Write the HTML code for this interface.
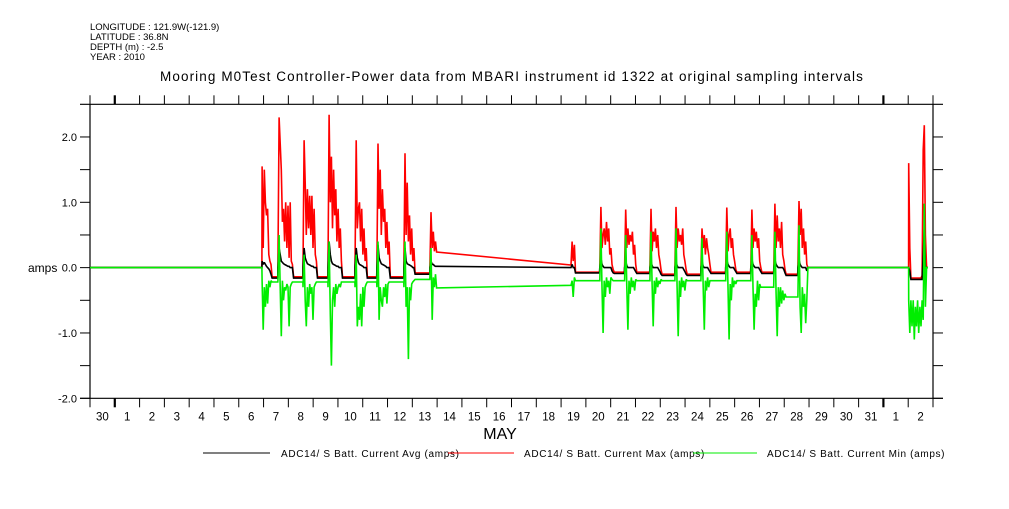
<!DOCTYPE html>
<html><head><meta charset="utf-8"><style>
html,body{margin:0;padding:0;background:#fff;}
svg text{font-family:"Liberation Sans",sans-serif;fill:#000;}
</style></head><body>
<svg id="chart" width="1009" height="504" xmlns="http://www.w3.org/2000/svg">
<g font-size="9.5">
<text x="90" y="30">LONGITUDE : 121.9W(-121.9)</text>
<text x="90" y="40">LATITUDE : 36.8N</text>
<text x="90" y="50">DEPTH (m) : -2.5</text>
<text x="90" y="60">YEAR : 2010</text>
</g>
<text x="512" y="81" font-size="13.5" letter-spacing="1.1" text-anchor="middle">Mooring M0Test Controller-Power data from MBARI instrument id 1322 at original sampling intervals</text>
<g id="axes"></g>
<g id="series"></g>
<text x="28" y="272" font-size="12">amps</text>
<text x="500" y="439" font-size="16" text-anchor="middle">MAY</text>
<g font-size="10" letter-spacing="0.65">
<line x1="203" y1="453" x2="270" y2="453" stroke="#000"/>
<text x="281" y="457">ADC14/ S Batt. Current Avg (amps)</text>
<line x1="448" y1="453" x2="514" y2="453" stroke="#f00"/>
<text x="524" y="457">ADC14/ S Batt. Current Max (amps)</text>
<line x1="693" y1="453" x2="757" y2="453" stroke="#0e0"/>
<text x="767" y="457">ADC14/ S Batt. Current Min (amps)</text>
</g>
</svg>
<script>
const dayLabels = ["30","1","2","3","4","5","6","7","8","9","10","11","12","13","14","15","16","17","18","19","20","21","22","23","24","25","26","27","28","29","30","31","1","2"];
const monthBoundaries = [1, 32];
const yTicks = [-2,-1.5,-1,-0.5,0,0.5,1,1.5,2];
const yTickLabels = ["-2.0","","-1.0","","0.0","","1.0","","2.0"];
const burstStart = [6.94,7.58,8.59,9.6,10.69,11.57,12.66,13.71,19.4,20.56,21.56,22.58,23.59,24.64,25.64,26.65,27.58,28.55,33.02];
const burstMax = [
[1.55,0.3,1.5,1.0,0.8,0.9,0.2,0.1,0.05,-0.14],
[0.0,2.3,1.9,1.5,0.7,0.9,0.4,1.0,0.3,0.95,0.15,1.0,0.1,0.05,-0.14],
[0.0,1.95,1.3,0.5,1.2,0.6,1.1,0.5,1.1,0.3,0.9,0.2,0.1,-0.14],
[0.0,2.34,1.0,1.7,0.6,1.5,0.8,1.2,0.4,0.9,0.3,0.6,0.1,-0.14],
[0.0,1.95,0.6,0.9,1.0,0.4,0.9,0.2,0.6,0.1,0.3,-0.14],
[0.0,1.9,0.9,1.5,0.5,1.2,0.7,0.9,0.3,0.7,0.2,0.4,-0.14],
[0.0,1.75,0.5,1.3,0.4,0.8,0.2,0.6,0.1,0.3,-0.08],
[0.0,0.85,0.3,0.55,0.25,0.4,0.24],
[0.04,0.4,0.1,0.35,-0.07],
[0.0,0.93,0.3,0.5,0.6,0.35,0.7,0.4,0.6,0.2,0.3,0.05,-0.03,-0.07],
[0.0,0.89,0.3,0.6,0.35,0.5,0.4,0.55,0.2,0.35,0.05,-0.07],
[0.0,0.9,0.25,0.55,0.4,0.6,0.3,0.5,0.2,0.1,-0.03,-0.1],
[0.0,0.93,0.3,0.6,0.4,0.5,0.35,0.6,0.2,0.1,-0.03,-0.1],
[0.0,0.6,0.3,0.5,0.2,0.45,0.3,0.2,0.05,-0.07],
[0.0,0.92,0.25,0.5,0.6,0.3,0.45,0.2,0.1,-0.03,-0.07],
[0.0,0.89,0.3,0.6,0.4,0.55,0.3,0.45,0.1,0.0,-0.07],
[0.0,0.98,0.3,0.8,0.4,0.6,0.3,0.7,0.2,0.1,-0.03,-0.1],
[0.0,1.02,0.5,0.9,0.3,0.6,0.2,0.4,0.05,0.0],
[1.6,0.3,-0.16,-0.16,-0.16,-0.16,-0.16,-0.16,-0.16,-0.16,-0.16,-0.16,-0.12,1.8,2.18,0.5]
];
const burstAvg = [
[0.1,0.05,0.08,0.05,0.02,0.0,-0.02,-0.05,-0.1,-0.16],
[0.0,0.3,0.2,0.1,0.08,0.06,0.05,0.04,0.03,0.02,0.02,0.0,0.0,0.0,-0.16],
[0.0,0.3,0.15,0.1,0.06,0.05,0.04,0.03,0.02,0.02,0.0,0.0,0.0,-0.16],
[0.0,0.4,0.2,0.1,0.06,0.05,0.04,0.03,0.02,0.02,0.0,0.0,0.0,-0.16],
[0.0,0.3,0.15,0.08,0.05,0.04,0.03,0.02,0.0,0.0,0.0,-0.16],
[0.0,0.35,0.15,0.1,0.06,0.05,0.04,0.03,0.02,0.0,0.0,0.0,-0.16],
[0.0,0.3,0.1,0.06,0.05,0.04,0.03,0.02,0.0,0.0,-0.1],
[0.0,0.1,0.05,0.05,0.03,0.02,0.02],
[0.0,0.05,0.0,0.0,-0.08],
[0.0,0.15,0.05,0.02,0.0,0.0,0.0,0.0,0.0,0.0,0.0,-0.05,-0.08,-0.09],
[0.0,0.1,0.03,0.0,0.0,0.0,0.0,0.0,0.0,-0.03,-0.06,-0.09],
[0.0,0.1,0.03,0.0,0.0,0.0,0.0,0.0,-0.03,-0.06,-0.1,-0.12],
[0.0,0.1,0.03,0.0,0.0,0.0,0.0,0.0,-0.03,-0.06,-0.1,-0.12],
[0.0,0.1,0.02,0.0,0.0,0.0,0.0,-0.03,-0.06,-0.09],
[0.0,0.12,0.05,0.02,0.0,0.0,0.0,0.0,-0.03,-0.06,-0.09],
[0.0,0.12,0.05,0.02,0.0,0.0,0.0,0.0,-0.03,-0.06,-0.09],
[0.0,0.12,0.05,0.02,0.0,0.0,0.0,0.0,0.0,-0.03,-0.08,-0.12],
[0.0,0.12,0.05,0.02,0.0,0.0,0.0,0.0,-0.05,0.0],
[0.0,-0.05,-0.18,-0.18,-0.18,-0.18,-0.18,-0.18,-0.18,-0.18,-0.18,-0.18,-0.18,0.2,0.6,0.0]
];
const burstMin = [
[-0.2,-0.95,-0.3,-0.6,-0.25,-0.55,-0.2,-0.3,-0.2,-0.22],
[-0.2,0.5,-0.3,-1.05,-0.2,-0.5,-0.3,-0.35,-0.25,-0.3,-0.9,-0.3,-0.25,-0.22,-0.22],
[-0.3,0.2,-0.5,-0.9,-0.3,-0.6,-0.25,-0.4,-0.3,-0.8,-0.3,-0.25,-0.22,-0.22],
[-0.3,0.4,-0.7,-1.5,-0.5,-0.3,-0.6,-0.25,-0.4,-0.3,-0.25,-0.3,-0.22,-0.22],
[-0.3,0.2,-0.9,-0.6,-0.8,-0.4,-0.9,-0.3,-0.6,-0.3,-0.25,-0.22],
[-0.3,0.4,-0.8,-0.3,-0.5,-0.6,-0.3,-0.45,-0.25,-0.55,-0.25,-0.22,-0.22],
[-0.3,0.4,-0.6,-0.3,-1.4,-0.3,-0.5,-0.25,-0.22,-0.2,-0.18],
[-0.15,0.3,-0.8,-0.15,-0.3,-0.1,-0.31],
[-0.27,-0.2,-0.45,-0.15,-0.2],
[-0.2,0.6,-0.3,-1.0,-0.2,-0.45,-0.15,-0.3,-0.2,-0.4,-0.15,-0.18,-0.2,-0.2],
[-0.2,0.5,-0.3,-0.95,-0.2,-0.4,-0.15,-0.3,-0.2,-0.35,-0.18,-0.2],
[-0.2,0.55,-0.25,-0.9,-0.2,-0.4,-0.15,-0.3,-0.2,-0.25,-0.18,-0.2],
[-0.2,0.6,-0.3,-1.05,-0.2,-0.45,-0.15,-0.3,-0.2,-0.35,-0.18,-0.2],
[-0.2,0.45,-0.3,-0.95,-0.2,-0.35,-0.15,-0.3,-0.2,-0.2],
[-0.2,0.55,-0.3,-1.1,-0.25,-0.5,-0.15,-0.3,-0.2,-0.25,-0.2],
[-0.2,0.5,-0.3,-0.95,-0.4,-0.6,-0.2,-0.5,-0.25,-0.3,-0.3],
[-0.2,0.55,-0.4,-1.05,-0.3,-0.6,-0.3,-0.55,-0.35,-0.5,-0.4,-0.45],
[-0.45,0.65,-0.6,-1.0,-0.3,-0.6,-0.4,-0.85,-0.5,0.0],
[-0.5,-1.0,-0.5,-0.9,-0.5,-1.1,-0.6,-0.9,-0.5,-1.0,-0.6,-0.9,-0.5,-0.8,0.98,-0.6]
];
const dataEnd = 33.8;
</script>
<script>
const NS = "http://www.w3.org/2000/svg";
const X0 = 90, X1 = 933, Y0 = 104.3, Y1 = 398.3, DAYS = 34, VMIN = -2, VMAX = 2.5;
const xs = t => X0 + (t / DAYS) * (X1 - X0);
const ys = v => Y1 - (v - VMIN) / (VMAX - VMIN) * (Y1 - Y0);
const STEP = 0.045;
function mk(tag, attrs, parent) {
  const e = document.createElementNS(NS, tag);
  for (const k in attrs) e.setAttribute(k, attrs[k]);
  parent.appendChild(e);
  return e;
}
const axes = document.getElementById('axes');
let f = mk('path', {d:`M80 ${Y0}H943M80 ${Y1}H943M${X0} ${Y0}V${Y1}M${X1} ${Y0}V${Y1}`, stroke:'#000', fill:'none', 'stroke-width':1.2}, axes);


for (let i = 0; i <= DAYS; i++) {
  const x = xs(i), major = monthBoundaries.includes(i);
  const tb = mk('line', {x1:x, y1:Y1, x2:x, y2:Y1 + 9, stroke:'#000', 'stroke-width': major ? 2.2 : 1}, axes);
  
  
  const tt = mk('line', {x1:x, y1:Y0, x2:x, y2:Y0 - 9, stroke:'#000', 'stroke-width': major ? 2.2 : 1}, axes);
  
  
  if (i < DAYS) {
    const lb = mk('text', {x: xs(i + 0.5), y: Y1 + 22, 'font-size': 11.5, 'text-anchor': 'middle'}, axes);
    lb.textContent = dayLabels[i];
    
    
  }
}
yTicks.forEach((v, i) => {
  const y = ys(v);
  const tl = mk('line', {x1:80, y1:y, x2:X0, y2:y, stroke:'#000'}, axes);
  
  
  const tr = mk('line', {x1:X1, y1:y, x2:943, y2:y, stroke:'#000'}, axes);
  
  
  if (yTickLabels[i]) {
    const lb = mk('text', {x: 77, y: y + 4, 'font-size': 11, 'text-anchor': 'end'}, axes);
    lb.textContent = yTickLabels[i];
    
    
  }
});
function buildSeries(vals) {
  const pts = [[0, 0]];
  for (let b = 0; b < burstStart.length; b++) {
    const t0 = burstStart[b], arr = vals[b];
    if (b === 0 || b === 18) pts.push([t0 - 0.005, 0]);
    else if (b !== 8) pts.push([t0 - 0.005, pts[pts.length - 1][1]]);
    arr.forEach((v, i) => pts.push([t0 + i * STEP, v]));
    if (b === 17) { const e = t0 + arr.length * STEP; pts.push([e, 0]); }
  }
  const last = burstStart[burstStart.length - 1] + vals[vals.length - 1].length * STEP;
  pts.push([last, 0]);
  pts.push([dataEnd, 0]);
  return pts;
}
const series = document.getElementById('series');
[[burstMax, '#f00', 'max-current-line'], [burstAvg, '#000', 'avg-current-line'], [burstMin, '#0e0', 'min-current-line']].forEach(([vals, col, name]) => {
  const pts = buildSeries(vals);
  const out = pts.map(p => xs(p[0]).toFixed(1) + ',' + ys(p[1]).toFixed(1));
  const pl = mk('polyline', {points: out.join(' '), fill:'none', stroke: col, 'stroke-width': 1.6, 'stroke-linejoin':'miter', 'stroke-miterlimit':2}, series);
  
  
});
</script>
</body></html>
